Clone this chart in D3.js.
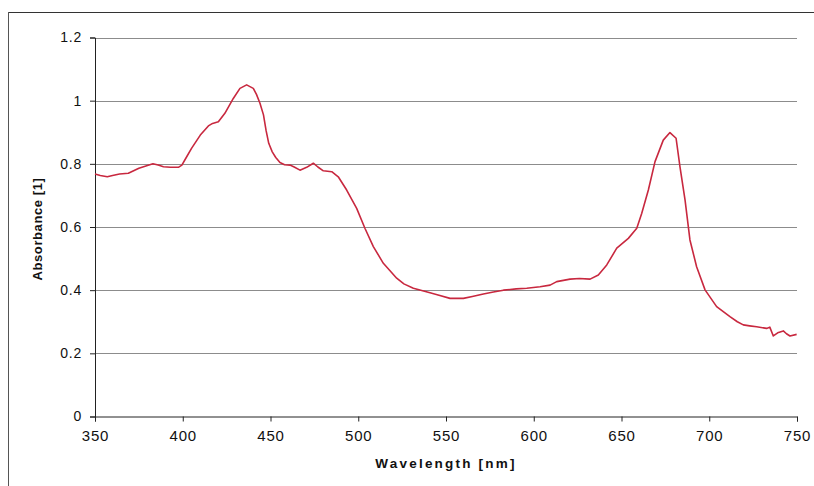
<!DOCTYPE html>
<html>
<head>
<meta charset="utf-8">
<script src="https://cdn.jsdelivr.net/npm/d3@7"></script>
<style>
  html, body { margin: 0; padding: 0; background: #fff; }
  svg { display: block; }
</style>
</head>
<body>
<svg id="chart" width="814" height="486"></svg>
<script>
// ---- data ----
const wavelengths = [
  350, 353, 357, 360, 364, 369, 375, 379, 383, 386,
  389, 393, 397.5, 399.5, 402, 405, 410, 414.6, 417, 420.3,
  424, 428.8, 432.6, 436.4, 440.2, 442, 444, 446, 447.5, 449,
  451, 453, 455.4, 458, 461.1, 463.5, 466.8, 470.6, 474.4, 477,
  480.1, 484.9, 488.6, 493.4, 499.1, 503.8, 508.6, 514.3, 521.9, 526,
  531.4, 540.9, 546, 552.3, 559.9, 565, 571.3, 577, 582.7, 590,
  596, 603.6, 609.3, 613.1, 620.7, 626, 632.1, 636.8, 641.6, 647.3,
  653.9, 658.7, 661.5, 665.3, 669.1, 673.8, 677.6, 681.1, 683.3, 686.2,
  689, 692.8, 697.6, 704.2, 711.8, 716, 719.4, 723, 727, 732.7,
  734.5, 736.5, 739, 742.2, 744, 746, 749.8
];
const absorbance = [
  0.768, 0.763, 0.759, 0.763, 0.768, 0.770, 0.786, 0.793, 0.800, 0.796,
  0.791, 0.789, 0.789, 0.796, 0.820, 0.849, 0.891, 0.920, 0.928, 0.933,
  0.960, 1.007, 1.039, 1.050, 1.039, 1.020, 0.992, 0.955, 0.905, 0.865,
  0.838, 0.820, 0.804, 0.797, 0.796, 0.790, 0.780, 0.789, 0.802, 0.790,
  0.778, 0.775, 0.759, 0.717, 0.659, 0.596, 0.538, 0.485, 0.438, 0.420,
  0.406, 0.392, 0.384, 0.374, 0.374, 0.380, 0.388, 0.394, 0.400, 0.404,
  0.406, 0.411, 0.416, 0.427, 0.435, 0.437, 0.435, 0.448, 0.480, 0.533,
  0.564, 0.596, 0.643, 0.717, 0.807, 0.875, 0.899, 0.881, 0.791, 0.686,
  0.559, 0.474, 0.401, 0.348, 0.316, 0.300, 0.290, 0.287, 0.284, 0.279,
  0.283, 0.255, 0.265, 0.271, 0.262, 0.255, 0.260
];
const xTicks = [350, 400, 450, 500, 550, 600, 650, 700, 750];
const yTicks = [0, 0.2, 0.4, 0.6, 0.8, 1, 1.2];
const xTitle = "Wavelength [nm]";
const yTitle = "Absorbance [1]";

// ---- layout ----
const svg = d3.select("#chart");
const pLeft = 95, pRight = 797, pTop = 37.5, pBottom = 416.5;

const x = d3.scaleLinear().domain([350, 750]).range([pLeft, pRight]);
const y = d3.scaleLinear().domain([0, 1.2]).range([pBottom, pTop]);

// outer frame (top and left edges visible in scan)
svg.append("line").attr("x1", 8).attr("x2", 814).attr("y1", 12.5).attr("y2", 12.5)
  .attr("stroke", "#333").attr("stroke-width", 1);
svg.append("line").attr("x1", 8.5).attr("x2", 8.5).attr("y1", 12).attr("y2", 486)
  .attr("stroke", "#555").attr("stroke-width", 1);

// gridlines
svg.append("g").selectAll("line")
  .data(yTicks.filter(d => d > 0))
  .join("line")
  .attr("x1", pLeft).attr("x2", pRight)
  .attr("y1", d => Math.round(y(d)) + 0.5).attr("y2", d => Math.round(y(d)) + 0.5)
  .attr("stroke", "#8c8c8c").attr("stroke-width", 1);

// y axis
const yAxis = d3.axisLeft(y).tickValues(yTicks).tickSize(5).tickPadding(8)
  .tickFormat(d3.format("~g"));
const gy = svg.append("g").attr("transform", `translate(${pLeft},0)`).call(yAxis);
gy.select(".domain").attr("stroke", "#222");
gy.selectAll(".tick line").attr("stroke", "#222");
gy.selectAll("text")
  .attr("font-family", "Liberation Sans, Arial, sans-serif")
  .attr("font-size", 14).attr("fill", "#111").attr("letter-spacing", 0.8);

// x axis
const xAxis = d3.axisBottom(x).tickValues(xTicks).tickSize(5).tickPadding(9);
const gx = svg.append("g").attr("transform", `translate(0,${pBottom})`).call(xAxis);
gx.select(".domain").attr("stroke", "#222");
gx.selectAll(".tick line").attr("stroke", "#222");
gx.selectAll("text")
  .attr("font-family", "Liberation Sans, Arial, sans-serif")
  .attr("font-size", 15).attr("fill", "#111").attr("letter-spacing", 0.8);

// curve
const data = wavelengths.map((w, i) => [w, absorbance[i]]);
svg.append("path")
  .datum(data)
  .attr("fill", "none")
  .attr("stroke", "#c8283f")
  .attr("stroke-width", 1.6)
  .attr("stroke-linejoin", "round")
  .attr("d", d3.line().x(d => x(d[0])).y(d => y(d[1])));

// titles
svg.append("text")
  .attr("x", (pLeft + pRight) / 2).attr("y", 468)
  .attr("text-anchor", "middle")
  .attr("font-family", "Liberation Sans, Arial, sans-serif")
  .attr("font-weight", "bold").attr("font-size", 13.5)
  .attr("letter-spacing", 2.2).attr("fill", "#111")
  .text(xTitle);

svg.append("text")
  .attr("transform", `translate(42,${(pTop + pBottom) / 2 + 2}) rotate(-90)`)
  .attr("text-anchor", "middle")
  .attr("font-family", "Liberation Sans, Arial, sans-serif")
  .attr("font-weight", "bold").attr("font-size", 13)
  .attr("letter-spacing", 0.6).attr("fill", "#111")
  .text(yTitle);
</script>
</body>
</html>
